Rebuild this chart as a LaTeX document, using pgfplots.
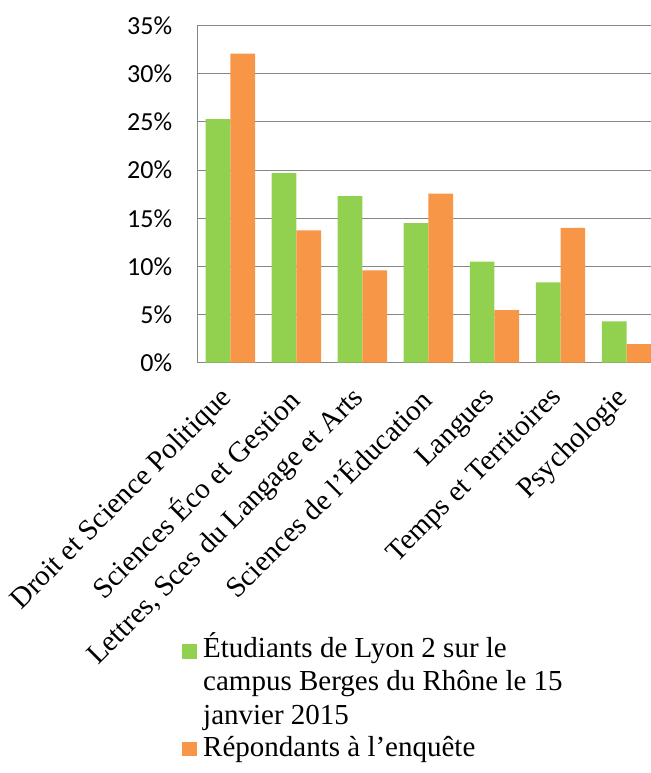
\documentclass[border=0pt]{standalone}
\usepackage{fontspec}
\setmainfont{Liberation Serif}
\newfontfamily\carlito{Carlito}
\usepackage{pgfplots}
\pgfplotsset{compat=1.18}

\definecolor{barGreen}{HTML}{92D050}
\definecolor{barOrange}{HTML}{F79646}
\definecolor{gridGray}{HTML}{868686}

\begin{document}
\begin{tikzpicture}
\useasboundingbox (0,0) rectangle (651bp,773bp);
\begin{axis}[
  at={(197.3bp,410.3bp)}, anchor=south west,
  scale only axis,
  width=453.7bp, height=337bp,
  xmin=-0.5, xmax=6.37,
  ymin=0, ymax=35,
  ybar=0pt, bar width=24.7bp,
  axis lines*=left,
  axis line style={gridGray, line width=1.2bp, -},
  major tick length=0pt,
  ymajorgrids,
  grid style={gridGray, line width=1bp},
  ytick={0,5,...,35},
  yticklabels={0\%,5\%,10\%,15\%,20\%,25\%,30\%,35\%},
  yticklabel style={font=\carlito\fontsize{26bp}{30bp}\selectfont, anchor=east, inner sep=0pt, xshift=-25bp},
  xtick={0,...,6},
  xticklabels={Droit et Science Politique, Sciences Éco et Gestion, {Lettres, Sces du Langage et Arts}, Sciences de l’Éducation, Langues, Temps et Territoires, Psychologie},
  xticklabel style={font=\fontsize{29bp}{33bp}\selectfont, xshift=-12bp, yshift=-22bp, rotate=45, anchor=north east, inner sep=0pt},
  legend style={draw=none, fill=none, inner sep=0pt, at={(-0.0337,-0.80)}, anchor=north west,
    nodes={align=left, inner sep=0pt, font=\fontsize{29bp}{33.5bp}\selectfont},
    row sep=10bp,
    /tikz/every odd column/.append style={column sep=6.5bp}},
  legend cell align=left,
]
\addplot[fill=barGreen, draw=none,
  legend image code/.code={\fill[barGreen] (0bp,20.2bp) rectangle (14.5bp,34.7bp);}]
  coordinates {(0,25.3) (1,19.7) (2,17.3) (3,14.5) (4,10.5) (5,8.35) (6,4.3)};
\addplot[fill=barOrange, draw=none,
  legend image code/.code={\fill[barOrange] (0bp,-9.3bp) rectangle (14.5bp,5.2bp);}]
  coordinates {(0,32.1) (1,13.75) (2,9.6) (3,17.55) (4,5.47) (5,14.0) (6,1.94)};
\legend{Étudiants de Lyon 2 sur le\\campus Berges du Rhône le 15\\janvier 2015, Répondants à l’enquête}
\end{axis}
\end{tikzpicture}
\end{document}
